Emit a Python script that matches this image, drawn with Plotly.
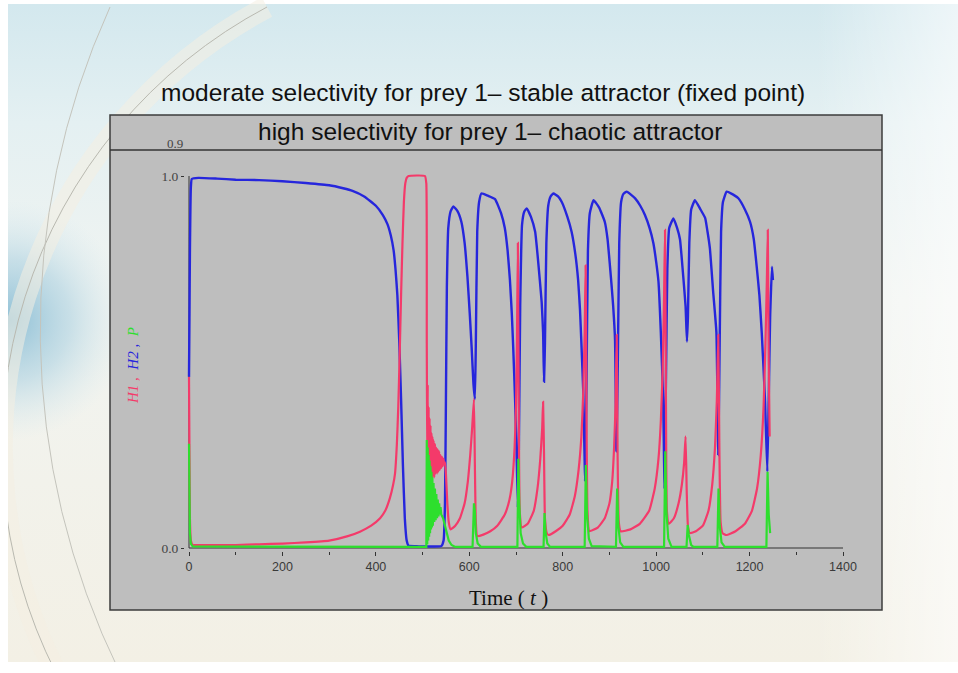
import base64
import plotly.graph_objects as go

# ---------------- data ----------------
# H2 (blue)
h2_points = [
    (0, 0.46), (1, 0.62), (2, 0.80), (4, 0.97), (6, 0.992), (20, 0.995), (60, 0.993),
    (100, 0.99), (150, 0.989), (200, 0.986), (250, 0.981), (300, 0.975), (330, 0.967),
    (350, 0.96), (375, 0.945), (400, 0.92), (415, 0.895), (425, 0.87), (432, 0.84),
    (438, 0.80), (442, 0.75), (446, 0.68), (450, 0.56), (454, 0.40), (458, 0.22),
    (462, 0.08), (466, 0.02), (470, 0.006), (485, 0.005), (500, 0.004), (520, 0.004),
    (540, 0.005), (545, 0.02),
    (548, 0.12), (550, 0.40), (552, 0.70), (555, 0.86), (560, 0.905), (566, 0.918),
    (575, 0.905), (583, 0.877), (590, 0.82), (596, 0.73), (601, 0.63), (605, 0.54),
    (609, 0.44), (612, 0.40), (614, 0.55), (617, 0.85), (621, 0.93), (626, 0.953),
    (640, 0.947), (655, 0.938), (668, 0.90), (676, 0.86), (682, 0.80), (687, 0.72),
    (691, 0.63), (694, 0.54), (698, 0.40), (701, 0.27), (704, 0.11), (706, 0.25),
    (709, 0.65), (713, 0.87), (718, 0.905), (723, 0.913), (732, 0.89), (741, 0.85),
    (746, 0.79), (751, 0.72), (755, 0.66), (758, 0.58), (760, 0.447), (762, 0.55),
    (765, 0.82), (769, 0.92), (774, 0.945), (780, 0.953), (790, 0.945), (798, 0.93),
    (810, 0.89), (819, 0.85), (827, 0.79), (833, 0.72), (837, 0.64), (840, 0.55),
    (844, 0.42), (848, 0.18), (851, 0.45), (854, 0.80), (858, 0.90), (866, 0.935),
    (878, 0.915), (890, 0.877), (896, 0.83), (901, 0.76), (905, 0.70), (908, 0.65),
    (912, 0.56), (915, 0.26), (918, 0.50), (921, 0.82), (925, 0.93), (930, 0.952),
    (937, 0.958), (955, 0.94), (966, 0.92), (976, 0.895), (986, 0.86), (994, 0.82),
    (1000, 0.77), (1005, 0.716), (1010, 0.58), (1015, 0.40), (1018, 0.16), (1021, 0.45),
    (1024, 0.75), (1028, 0.86), (1037, 0.886), (1045, 0.86), (1051, 0.83), (1058, 0.73),
    (1063, 0.65), (1066, 0.555), (1068, 0.62), (1071, 0.82), (1075, 0.91), (1083, 0.935),
    (1095, 0.91), (1105, 0.887), (1110, 0.85), (1115, 0.806), (1122, 0.69), (1129, 0.58),
    (1133, 0.25), (1136, 0.55), (1139, 0.85), (1143, 0.93), (1151, 0.958), (1165, 0.95),
    (1176, 0.94), (1190, 0.91), (1201, 0.877), (1209, 0.83), (1215, 0.76), (1221, 0.68),
    (1226, 0.58), (1233, 0.40), (1238, 0.205), (1241, 0.40), (1244, 0.62), (1248, 0.756),
    (1250, 0.72),
]

# H1 (red)
h1_points = [
    (0, 0.46), (1, 0.25), (2, 0.08), (4, 0.02), (8, 0.008), (20, 0.008), (50, 0.008),
    (100, 0.008), (150, 0.01), (200, 0.012),
    (250, 0.015), (300, 0.02), (340, 0.032), (366, 0.044), (390, 0.06), (409, 0.08),
    (420, 0.10), (430, 0.134), (437, 0.17), (441, 0.20), (445, 0.28), (448, 0.38),
    (451, 0.52), (454, 0.68), (457, 0.82), (460, 0.93), (463, 0.98), (466, 0.995),
    (470, 1.0), (505, 1.0), (508, 0.98), (509, 0.55), (510, 0.20), (511, 0.44),
    (512, 0.16), (513, 0.38), (514, 0.17), (515, 0.35), (516, 0.17), (517, 0.33),
    (518, 0.18), (519, 0.31), (520, 0.18), (521, 0.30), (522, 0.19), (523.5, 0.29),
    (525, 0.19), (526.5, 0.28), (528, 0.20), (529.5, 0.27), (531, 0.20), (532.5, 0.265),
    (534, 0.205), (535.5, 0.26), (537, 0.21), (538.5, 0.25), (540, 0.215), (541.5, 0.245),
    (543, 0.22), (544.5, 0.24), (546, 0.225), (548, 0.23), (550, 0.20), (553, 0.12),
    (556, 0.07), (560, 0.05), (570, 0.06), (580, 0.08), (590, 0.12), (597, 0.18),
    (602, 0.25), (606, 0.32), (610, 0.40), (612, 0.22), (614, 0.07), (617, 0.032),
    (630, 0.036), (645, 0.045), (660, 0.06), (676, 0.09), (686, 0.13), (692, 0.18),
    (697, 0.27), (700, 0.38), (702, 0.55), (704, 0.82), (706, 0.35), (708, 0.10),
    (712, 0.055), (725, 0.065), (738, 0.10), (746, 0.16), (752, 0.24), (756, 0.32),
    (758, 0.393), (760, 0.25), (762, 0.08), (766, 0.04), (770, 0.035), (785, 0.045),
    (800, 0.06), (815, 0.09), (826, 0.14), (834, 0.21), (840, 0.30), (844, 0.42),
    (847, 0.58), (849, 0.76), (851, 0.35), (853, 0.10), (857, 0.045), (875, 0.055),
    (890, 0.08), (900, 0.12), (906, 0.18), (910, 0.27), (913, 0.38), (915.6, 0.573),
    (917.5, 0.25), (920, 0.07), (924, 0.045), (945, 0.05), (965, 0.065), (985, 0.10),
    (997, 0.16), (1005, 0.24), (1010, 0.34), (1014, 0.48), (1017, 0.68), (1019, 0.855),
    (1021, 0.40), (1023, 0.10), (1027, 0.065), (1038, 0.08), (1048, 0.12), (1055, 0.17),
    (1060, 0.23), (1063, 0.30), (1065.5, 0.15), (1068, 0.06), (1072, 0.04), (1085, 0.045),
    (1100, 0.06), (1112, 0.10), (1120, 0.17), (1126, 0.27), (1130, 0.40), (1133, 0.573),
    (1135.5, 0.25), (1138, 0.07), (1142, 0.04), (1150, 0.035), (1170, 0.045),
    (1190, 0.065), (1205, 0.10), (1216, 0.16), (1224, 0.25), (1230, 0.38), (1234, 0.55),
    (1237, 0.72), (1239, 0.855), (1241, 0.50), (1243, 0.30),
]

# P (green)
p_points = [
    (0, 0.28), (1, 0.12), (2, 0.04), (4, 0.012), (8, 0.004), (508, 0.003), (509, 0.29),
    (510, 0.01), (511, 0.27), (512, 0.02), (513, 0.25), (514, 0.03), (515, 0.235),
    (516, 0.04), (517, 0.22), (518, 0.05), (519, 0.205), (520, 0.055), (521, 0.19),
    (522, 0.06), (523.5, 0.175), (525, 0.07), (526.5, 0.16), (528, 0.075), (529.5, 0.145),
    (531, 0.08), (532.5, 0.13), (534, 0.085), (535.5, 0.12), (537, 0.09), (538.5, 0.11),
    (540, 0.09), (544, 0.08), (548, 0.06), (552, 0.04), (556, 0.02), (562, 0.008),
    (570, 0.003), (607, 0.003), (610, 0.12), (612, 0.10), (614, 0.04), (618, 0.012),
    (625, 0.003), (703, 0.003), (705, 0.24), (707, 0.12), (710, 0.04), (715, 0.012),
    (722, 0.003), (759, 0.003), (761, 0.094), (763, 0.045), (767, 0.012), (773, 0.003),
    (847, 0.003), (849.5, 0.223), (852, 0.09), (856, 0.025), (862, 0.005), (914, 0.003),
    (916.5, 0.16), (919, 0.06), (923, 0.015), (930, 0.003), (1017, 0.003), (1019.5, 0.26),
    (1022, 0.10), (1026, 0.025), (1033, 0.003), (1065, 0.003), (1067.5, 0.062),
    (1070, 0.035), (1075, 0.008), (1080, 0.003), (1131, 0.003), (1133.5, 0.16),
    (1136, 0.06), (1140, 0.015), (1147, 0.003), (1236, 0.003), (1238.5, 0.205),
    (1241, 0.09), (1244, 0.04),
]

x_tick_vals = [0, 200, 400, 600, 800, 1000, 1200, 1400]
x_tick_text = ["0", "200", "400", "600", "800", "1000", "1200", "1400"]
y_tick_vals = [0.0, 1.0]
y_tick_text = ["0.0", "1.0"]

slide_title = "moderate selectivity for prey 1\u2013 stable attractor (fixed point)"
box_title = "high selectivity for prey 1\u2013 chaotic attractor"

# ---------------- geometry ----------------
FW, FH = 958, 673
ML, MR, MT, MB = 185, 111, 169, 122
PW, PH = FW - ML - MR, FH - MT - MB


def pxx(px):
    return (px - ML) / PW


def pxy(py):
    return (MT + PH - py) / PH


RED = "#f43a6a"
BLUE = "#2626dc"
GREEN = "#2ddf2d"

fig = go.Figure()
for pts, col, name, w, shp in [(h2_points, BLUE, "H2", 2.4, "spline"),
                               (h1_points, RED, "H1", 2.2, "spline"),
                               (p_points, GREEN, "P", 2.2, "linear")]:
    line = dict(color=col, width=w, shape=shp)
    if shp == "spline":
        line["smoothing"] = 0.4
    fig.add_trace(go.Scatter(
        x=[a for a, b in pts], y=[b for a, b in pts], mode="lines", name=name,
        line=line, hoverinfo="skip", showlegend=False,
    ))

# slide background as an svg image
svg = f'''<svg xmlns="http://www.w3.org/2000/svg" width="{FW}" height="{FH}" viewBox="0 0 {FW} {FH}">
<defs>
<linearGradient id="g" x1="0" y1="0" x2="0" y2="1">
<stop offset="0" stop-color="#d3e8ee"/>
<stop offset="0.18" stop-color="#e4f0f2"/>
<stop offset="0.45" stop-color="#f1f4f1"/>
<stop offset="1" stop-color="#f3f0e5"/>
</linearGradient>
<linearGradient id="h" x1="0" y1="0" x2="1" y2="0">
<stop offset="0" stop-color="#ffffff" stop-opacity="0"/>
<stop offset="0.85" stop-color="#ffffff" stop-opacity="0"/>
<stop offset="1" stop-color="#ffffff" stop-opacity="0.6"/>
</linearGradient>
<radialGradient id="b">
<stop offset="0" stop-color="#8fc0d6"/>
<stop offset="0.5" stop-color="#b6d6e3" stop-opacity="0.7"/>
<stop offset="1" stop-color="#d6e9ef" stop-opacity="0"/>
</radialGradient>
</defs>
<rect width="{FW}" height="{FH}" fill="#ffffff"/>
<rect x="8" y="4" width="{FW - 8}" height="658" fill="url(#g)"/>
<rect x="8" y="4" width="{FW - 8}" height="658" fill="url(#h)"/>
<circle cx="10" cy="320" r="120" fill="url(#b)"/>
<path d="M 267 7 A 498 498 0 0 0 56 673" fill="none" stroke="#f4efe2" stroke-opacity="0.55" stroke-width="22"/>
<path d="M 267 7 A 498 498 0 0 0 56 673" fill="none" stroke="#b9b9b0" stroke-width="1"/>
<path d="M 110 7 A 780 780 0 0 0 120 673" fill="none" stroke="#c4c4bc" stroke-width="1"/>
<rect x="0" y="0" width="8" height="{FH}" fill="#ffffff"/>
<rect x="0" y="662" width="{FW}" height="11" fill="#ffffff"/>
</svg>'''
uri = "data:image/svg+xml;base64," + base64.b64encode(svg.encode()).decode()

fig.update_layout(
    width=FW, height=FH,
    margin=dict(l=ML, r=MR, t=MT, b=MB, pad=0),
    paper_bgcolor="#ffffff",
    plot_bgcolor="rgba(0,0,0,0)",
    images=[dict(source=uri, xref="paper", yref="paper", x=pxx(0), y=pxy(0),
                 sizex=FW / PW, sizey=FH / PH, xanchor="left", yanchor="top",
                 sizing="stretch", layer="below")],
    shapes=[
        dict(type="rect", xref="paper", yref="paper", x0=pxx(110), x1=pxx(882),
             y0=pxy(610), y1=pxy(115), fillcolor="#bebebe",
             line=dict(color="#3c3c3c", width=1.5), layer="below"),
        dict(type="line", xref="paper", yref="paper", x0=pxx(110), x1=pxx(882),
             y0=pxy(150), y1=pxy(150), line=dict(color="#333333", width=1.5), layer="below"),
        dict(type="line", xref="x", yref="y", x0=0, x1=1400, y0=0, y1=0,
             line=dict(color="#333333", width=1), layer="below"),
        dict(type="line", xref="x", yref="y", x0=0, x1=0, y0=0, y1=1.0,
             line=dict(color="#333333", width=1), layer="below"),
    ],
    xaxis=dict(
        range=[-(189 - ML) * 1400 / 654, 1400 + (FW - MR - 843) * 1400 / 654],
        tickvals=x_tick_vals, ticktext=x_tick_text, ticks="outside", ticklen=4,
        tickcolor="#333333", tickwidth=1, showgrid=False, zeroline=False, showline=False,
        tickfont=dict(family="Liberation Sans, Arial", size=12.5, color="#3a3a3a"),
        minor=dict(dtick=100, ticks="outside", ticklen=3, tickcolor="#333333", showgrid=False),
        fixedrange=True,
    ),
    yaxis=dict(
        range=[-(MT + PH - 548) / 372, 1 + (176 - MT) / 372],
        tickvals=y_tick_vals, ticktext=y_tick_text, ticks="outside", ticklen=3,
        tickcolor="#333333", showgrid=False, zeroline=False, showline=False,
        tickfont=dict(family="Liberation Serif, Times New Roman", size=13.5, color="#444444"),
        fixedrange=True,
    ),
    annotations=[
        dict(text=slide_title, xref="paper", yref="paper", x=pxx(483), y=pxy(93),
             showarrow=False, xanchor="center", yanchor="middle",
             font=dict(family="Liberation Sans, Arial", size=24.5, color="#111111")),
        dict(text=box_title, xref="paper", yref="paper", x=pxx(490), y=pxy(131),
             showarrow=False, xanchor="center", yanchor="middle",
             font=dict(family="Liberation Sans, Arial", size=24.5, color="#111111")),
        dict(text="0.9", xref="paper", yref="paper", x=pxx(185), y=pxy(143),
             showarrow=False, xanchor="right", yanchor="middle",
             font=dict(family="Liberation Serif, Times New Roman", size=13, color="#444444")),
        dict(text="Time ( <i>t</i> )", xref="paper", yref="paper", x=pxx(508), y=pxy(598),
             showarrow=False, xanchor="center", yanchor="middle",
             font=dict(family="Liberation Serif, Times New Roman", size=21, color="#111111")),
        dict(text=(f'<i><span style="color:{RED}">H1 ,</span>  '
                   f'<span style="color:{BLUE}">H2 ,</span>  <span style="color:{GREEN}">P</span></i>'),
             xref="paper", yref="paper", x=pxx(133), y=pxy(366), textangle=-90,
             showarrow=False, xanchor="center", yanchor="middle",
             font=dict(family="Liberation Serif, Times New Roman", size=15, color="#333333")),
    ],
)

fig.write_html("out.html", config={"displayModeBar": False},
               post_script="document.body.style.margin='0';document.body.style.padding='0';")
